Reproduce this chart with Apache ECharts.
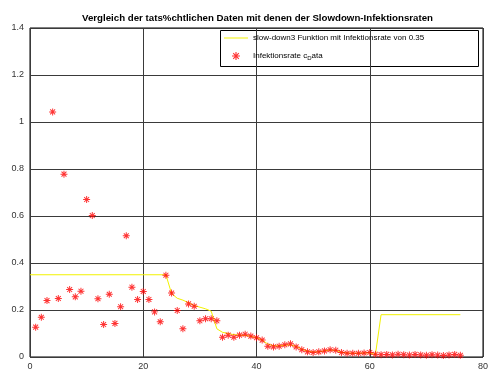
<!DOCTYPE html>
<html>
<head>
<meta charset="utf-8">
<script src="https://cdn.jsdelivr.net/npm/echarts@6/dist/echarts.min.js"></script>
<style>html,body{margin:0;padding:0;background:#fff}#c{width:500px;height:375px}</style>
</head>
<body>
<div id="c"></div>
<script>
// ---- data ----
const titleText = "Vergleich der tats%chtlichen Daten mit denen der Slowdown-Infektionsraten";
const lineName = "slow-down3 Funktion mit Infektionsrate von 0.35";
const dataName = "Infektionsrate c_Data";

const dataX = [1,2,3,4,5,6,7,8,9,10,11,12,13,14,15,16,17,18,19,20,
  21,22,23,24,25,26,27,28,29,30,31,32,33,34,35,36,37,38,39,40,
  41,42,43,44,45,46,47,48,49,50,51,52,53,54,55,56,57,58,59,60,
  61,62,63,64,65,66,67,68,69,70,71,72,73,74,75,76];
const dataY = [0.127,0.169,0.240,1.043,0.249,0.778,0.287,0.256,0.280,0.670,
  0.602,0.248,0.138,0.267,0.143,0.214,0.516,0.297,0.245,0.279,
  0.245,0.192,0.150,0.348,0.272,0.198,0.120,0.226,0.216,0.154,
  0.163,0.163,0.154,0.084,0.093,0.084,0.093,0.097,0.089,0.082,
  0.072,0.046,0.043,0.046,0.052,0.056,0.043,0.031,0.022,0.019,
  0.022,0.026,0.031,0.029,0.019,0.016,0.016,0.016,0.017,0.019,
  0.012,0.010,0.011,0.009,0.012,0.010,0.008,0.011,0.009,0.007,
  0.010,0.008,0.006,0.009,0.011,0.007];

const lineX = [0,24,25,26,27,28,29,30,31,32,33,34,35,36,37,38,39,40,
  41,42,43,44,45,46,47,48,49,50,51,52,53,54,55,56,57,58,59,60,61,62,76];
const lineY = [0.35,0.35,0.27,0.25,0.242,0.231,0.219,0.212,0.205,0.195,0.12,0.105,0.1,0.095,0.093,0.092,0.088,0.082,
  0.072,0.055,0.048,0.047,0.05,0.052,0.045,0.033,0.025,0.021,0.022,0.026,0.03,0.028,0.02,0.017,0.016,0.016,0.017,0.018,0.01,0.18,0.18];

const xTicks = [0,20,40,60,80];
const yTicks = [0,0.2,0.4,0.6,0.8,1,1.2,1.4];

// ---- chart ----
const star = 'path://M-0.7,-5L0.7,-5L0.7,5L-0.7,5Z M-5,-0.7L5,-0.7L5,0.7L-5,0.7Z M-3,-4L4,3L3,4L-4,-3Z M-4,3L3,-4L4,-3L-3,4Z';
const lineIcon = 'path://M0,-0.5L24,-0.5L24,0.5L0,0.5Z';
const chart = echarts.init(document.getElementById('c'), null, {renderer:'canvas'});
const font = '"Liberation Sans", Arial, Helvetica, sans-serif';
const gridL = 30, gridR = 17, gridT = 28, gridB = 18;
chart.setOption({
  animation:false,
  backgroundColor:'#fff',
  textStyle:{fontFamily:font},
  title:{text:titleText,left:77,top:8,
    textStyle:{fontFamily:font,fontSize:9.7,fontWeight:'bold',color:'#000'}},
  grid:{left:gridL,right:gridR,top:gridT,bottom:gridB,show:true,borderColor:'#000',borderWidth:1},
  xAxis:{type:'value',min:0,max:80,interval:20,
    axisLine:{show:false},
    axisTick:{show:false},
    splitLine:{show:true,lineStyle:{color:'#3a3a3a',width:1}},
    axisLabel:{color:'#333',fontSize:9,margin:5,fontFamily:font,
      formatter:v=>xTicks.includes(v)?String(v):''}},
  yAxis:{type:'value',min:0,max:1.4,interval:0.2,
    axisLine:{show:false},
    axisTick:{show:false},
    splitLine:{show:true,lineStyle:{color:'#3a3a3a',width:1}},
    axisLabel:{color:'#333',fontSize:9,margin:6,fontFamily:font,
      formatter:v=>{const t=yTicks.find(a=>Math.abs(a-v)<1e-9);return t===undefined?'':String(+t.toFixed(1));}}},
  legend:{left:224,top:34,orient:'vertical',itemWidth:24,itemHeight:8,itemGap:10,padding:0,
    symbolKeepAspect:true,
    textStyle:{fontFamily:font,fontSize:8,color:'#000',
      rich:{sub:{fontSize:6,verticalAlign:'bottom',padding:[4,0,0,0],fontFamily:font,color:'#000'},n:{fontSize:8,fontFamily:font,color:'#000'}}},
    formatter:n=>n===dataName?'{n|Infektionsrate c}{sub|D}{n|ata}':n,
    data:[{name:lineName,icon:lineIcon},{name:dataName,icon:star}]},
  graphic:[{type:'rect',left:220,top:30,z:-1,zlevel:0,
    shape:{width:258,height:36},style:{fill:'#fff',stroke:'#000',lineWidth:1}}],
  series:[
    {name:lineName,type:'line',symbol:'none',z:2,
      lineStyle:{color:'#f2f200',width:1},itemStyle:{color:'#f2f200'},
      data:lineX.map((x,i)=>[x,lineY[i]])},
    {name:dataName,type:'scatter',symbol:star,symbolSize:7,symbolKeepAspect:true,z:3,
      itemStyle:{color:'#ff0000'},
      data:dataX.map((x,i)=>[x,dataY[i]])}
  ]
});
</script>
</body>
</html>
